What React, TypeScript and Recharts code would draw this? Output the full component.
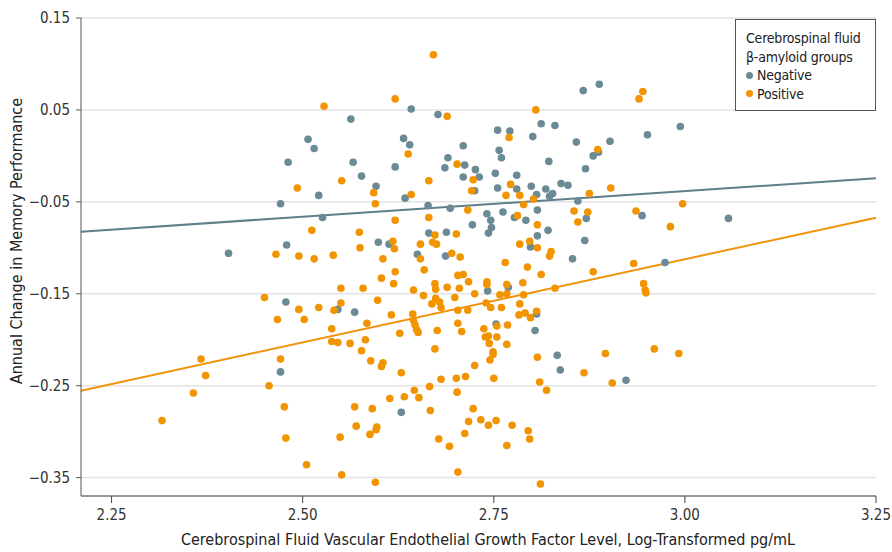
import { ScatterChart, Scatter, XAxis, YAxis, CartesianGrid, ReferenceLine, Legend, Label } from 'recharts'

// [vegf, memory change] pairs
const negative: [number, number][] = [
  [2.642, 0.051], [2.563, 0.04], [2.677, 0.045], [2.507, 0.018], [2.515, 0.008], [2.632, 0.019],
  [2.64, 0.012], [2.71, 0.011], [2.481, -0.007], [2.566, -0.007], [2.621, -0.012], [2.69, -0.002],
  [2.686, -0.013], [2.712, -0.01], [2.577, -0.022], [2.867, 0.071], [2.888, 0.078], [2.812, 0.035],
  [2.83, 0.033], [2.755, 0.028], [2.771, 0.027], [2.801, 0.021], [2.951, 0.023], [2.858, 0.015],
  [2.902, 0.016], [2.757, 0.006], [2.76, -0.002], [2.88, 0.0], [2.887, 0.004], [2.822, -0.006],
  [2.87, -0.014], [2.726, -0.015], [2.752, -0.019], [2.78, -0.021], [2.994, 0.032], [2.471, -0.052],
  [2.403, -0.106], [2.521, -0.043], [2.596, -0.033], [2.634, -0.046], [2.71, -0.023], [2.725, -0.038],
  [2.664, -0.054], [2.693, -0.057], [2.526, -0.067], [2.722, -0.075], [2.665, -0.084], [2.688, -0.083],
  [2.479, -0.097], [2.599, -0.094], [2.613, -0.096], [2.65, -0.107], [2.687, -0.109], [2.478, -0.159],
  [2.546, -0.167], [2.568, -0.17], [2.731, -0.023], [2.755, -0.035], [2.78, -0.036], [2.799, -0.033],
  [2.806, -0.042], [2.818, -0.036], [2.827, -0.041], [2.823, -0.044], [2.838, -0.03], [2.847, -0.032],
  [2.86, -0.049], [2.871, -0.068], [2.944, -0.065], [2.741, -0.063], [2.762, -0.061], [2.777, -0.067],
  [2.746, -0.07], [2.792, -0.07], [2.807, -0.059], [2.747, -0.078], [2.743, -0.084], [2.821, -0.081],
  [2.807, -0.087], [2.798, -0.099], [2.869, -0.092], [2.853, -0.112], [2.974, -0.116], [2.742, -0.147],
  [2.769, -0.143], [2.806, -0.172], [2.753, -0.183], [2.804, -0.19], [3.057, -0.068], [2.471, -0.235],
  [2.629, -0.279], [2.833, -0.217], [2.837, -0.233], [2.923, -0.244],
]

const positive: [number, number][] = [
  [2.671, 0.11], [2.528, 0.054], [2.621, 0.062], [2.689, 0.043], [2.638, 0.002], [2.702, -0.009],
  [2.945, 0.07], [2.94, 0.062], [2.805, 0.05], [2.77, 0.02], [2.886, 0.007], [2.465, -0.107],
  [2.45, -0.154], [2.467, -0.178], [2.551, -0.027], [2.493, -0.035], [2.593, -0.04], [2.595, -0.052],
  [2.642, -0.042], [2.665, -0.027], [2.723, -0.026], [2.721, -0.038], [2.716, -0.059], [2.621, -0.07],
  [2.665, -0.067], [2.512, -0.081], [2.574, -0.083], [2.673, -0.086], [2.701, -0.085], [2.618, -0.093],
  [2.62, -0.101], [2.575, -0.1], [2.654, -0.096], [2.67, -0.094], [2.675, -0.096], [2.654, -0.112],
  [2.695, -0.106], [2.706, -0.11], [2.495, -0.109], [2.515, -0.112], [2.54, -0.108], [2.605, -0.112],
  [2.659, -0.124], [2.621, -0.126], [2.603, -0.133], [2.703, -0.13], [2.71, -0.129], [2.717, -0.137],
  [2.619, -0.139], [2.673, -0.139], [2.55, -0.144], [2.579, -0.144], [2.645, -0.146], [2.674, -0.145],
  [2.689, -0.143], [2.705, -0.144], [2.725, -0.15], [2.658, -0.152], [2.699, -0.154], [2.674, -0.155],
  [2.598, -0.157], [2.55, -0.16], [2.669, -0.161], [2.679, -0.159], [2.681, -0.165], [2.521, -0.165],
  [2.495, -0.167], [2.541, -0.168], [2.703, -0.168], [2.716, -0.168], [2.502, -0.178], [2.616, -0.173],
  [2.644, -0.172], [2.645, -0.179], [2.647, -0.184], [2.649, -0.189], [2.651, -0.192], [2.538, -0.188],
  [2.584, -0.182], [2.703, -0.182], [2.627, -0.193], [2.676, -0.19], [2.708, -0.191], [2.772, -0.031],
  [2.766, -0.043], [2.784, -0.043], [2.903, -0.035], [2.875, -0.041], [2.802, -0.047], [2.789, -0.053],
  [2.855, -0.06], [2.873, -0.061], [2.86, -0.072], [2.936, -0.06], [2.981, -0.077], [2.781, -0.065],
  [2.807, -0.075], [2.797, -0.093], [2.784, -0.096], [2.807, -0.1], [2.825, -0.104], [2.823, -0.109],
  [2.765, -0.116], [2.794, -0.121], [2.933, -0.117], [2.88, -0.126], [2.812, -0.129], [2.741, -0.137],
  [2.741, -0.14], [2.767, -0.14], [2.788, -0.138], [2.83, -0.144], [2.946, -0.139], [2.948, -0.146],
  [2.949, -0.149], [2.758, -0.151], [2.767, -0.15], [2.789, -0.151], [2.74, -0.16], [2.746, -0.165],
  [2.76, -0.165], [2.784, -0.161], [2.783, -0.173], [2.791, -0.171], [2.798, -0.176], [2.806, -0.169],
  [2.737, -0.188], [2.754, -0.185], [2.768, -0.184], [2.997, -0.052], [2.367, -0.221], [2.373, -0.239],
  [2.357, -0.258], [2.316, -0.288], [2.456, -0.25], [2.471, -0.221], [2.538, -0.202], [2.546, -0.203],
  [2.562, -0.204], [2.582, -0.2], [2.577, -0.212], [2.673, -0.21], [2.589, -0.223], [2.605, -0.225],
  [2.603, -0.229], [2.629, -0.236], [2.725, -0.228], [2.681, -0.243], [2.701, -0.242], [2.713, -0.24],
  [2.666, -0.251], [2.646, -0.255], [2.633, -0.262], [2.652, -0.263], [2.614, -0.264], [2.702, -0.257],
  [2.476, -0.273], [2.568, -0.273], [2.591, -0.275], [2.667, -0.277], [2.723, -0.275], [2.717, -0.289],
  [2.57, -0.294], [2.597, -0.295], [2.596, -0.298], [2.588, -0.303], [2.712, -0.302], [2.478, -0.307],
  [2.549, -0.306], [2.678, -0.308], [2.692, -0.316], [2.505, -0.336], [2.551, -0.347], [2.595, -0.355],
  [2.703, -0.344], [2.743, -0.196], [2.754, -0.197], [2.739, -0.197], [2.744, -0.204], [2.767, -0.205],
  [2.749, -0.213], [2.749, -0.216], [2.745, -0.222], [2.807, -0.219], [2.896, -0.215], [2.96, -0.21],
  [2.868, -0.236], [2.75, -0.242], [2.81, -0.246], [2.819, -0.255], [2.905, -0.247], [2.733, -0.287],
  [2.753, -0.288], [2.743, -0.293], [2.774, -0.293], [2.795, -0.299], [2.797, -0.308], [2.767, -0.315],
  [2.811, -0.357], [2.992, -0.215],
]

// fitted lines, endpoints at the x-axis limits
const negativeFit: [number, number][] = [[2.21, -0.0824], [3.25, -0.0243]]
const positiveFit: [number, number][] = [[2.21, -0.2554], [3.25, -0.0672]]

const xTicks = [2.25, 2.5, 2.75, 3.0, 3.25]
const yTicks = [0.15, 0.05, -0.05, -0.15, -0.25, -0.35]

const BLUE = '#6a8a95'
const ORANGE = '#f29400'
const FONT = "'Liberation Sans Narrow', 'DejaVu Sans Condensed', sans-serif"

const toPoints = (arr: [number, number][]) => arr.map(([x, y]) => ({ x, y }))
const fmt = (v: number) => (v < 0 ? '\u2212' : '') + Math.abs(v).toFixed(2)

function Dot(color: string) {
  return (p: any) => <circle cx={p.cx} cy={p.cy} r={3.8} fill={color} />
}

function LegendBox() {
  return (
    <div
      style={{
        width: 141,
        height: 92,
        border: '1px solid #555',
        background: '#fff',
        fontFamily: FONT,
        fontSize: 14,
        letterSpacing: -0.2,
        whiteSpace: 'nowrap',
        color: '#222',
        lineHeight: '18.5px',
        padding: '9px 0 0 10px',
        boxSizing: 'border-box',
      }}
    >
      <div>Cerebrospinal fluid</div>
      <div>β-amyloid groups</div>
      {[['Negative', BLUE], ['Positive', ORANGE]].map(([name, c]) => (
        <div key={name} style={{ display: 'flex', alignItems: 'center' }}>
          <span style={{ width: 7, height: 7, borderRadius: '50%', background: c, marginRight: 4 }} />
          {name}
        </div>
      ))}
    </div>
  )
}

export default function App() {
  return (
    <div style={{ position: 'absolute', left: 0, top: 0, width: 892, height: 552, background: '#fff' }}>
      <ScatterChart width={892} height={552} margin={{ top: 18, right: 16, bottom: 0, left: 0 }}>
        <CartesianGrid vertical={false} stroke="#e3e3e3" strokeWidth={1.5} />
        <XAxis
          type="number"
          dataKey="x"
          domain={[2.21, 3.25]}
          ticks={xTicks}
          tickFormatter={(v: number) => v.toFixed(2)}
          allowDataOverflow
          height={56}
          stroke="#444"
          tickSize={7}
          tickMargin={6}
          tick={{ fill: '#333', fontSize: 15, fontFamily: FONT }}
        >
          <Label
            content={() => (
              <text x={488} y={545} textAnchor="middle" fontFamily={FONT} fontSize={16} fill="#222">
                Cerebrospinal Fluid Vascular Endothelial Growth Factor Level, Log-Transformed pg/mL
              </text>
            )}
          />
        </XAxis>
        <YAxis
          type="number"
          dataKey="y"
          domain={[-0.37, 0.15]}
          ticks={yTicks}
          tickFormatter={fmt}
          allowDataOverflow
          width={81}
          stroke="#555"
          tickSize={5}
          tickMargin={6}
          tick={{ fill: '#333', fontSize: 15, fontFamily: FONT }}
        >
          <Label
            content={() => (
              <text
                x={22}
                y={241}
                transform="rotate(-90 22 241)"
                textAnchor="middle"
                fontFamily={FONT}
                fontSize={16}
                fill="#222"
              >
                Annual Change in Memory Performance
              </text>
            )}
          />
        </YAxis>
        <ReferenceLine segment={toPoints(negativeFit)} stroke="#5f7f8a" strokeWidth={2} />
        <ReferenceLine segment={toPoints(positiveFit)} stroke="#f0930a" strokeWidth={2} />
        <Scatter name="Negative" data={toPoints(negative)} fill={BLUE} shape={Dot(BLUE)} isAnimationActive={false} />
        <Scatter name="Positive" data={toPoints(positive)} fill={ORANGE} shape={Dot(ORANGE)} isAnimationActive={false} />
        <Legend
          layout="vertical"
          align="center"
          verticalAlign="middle"
          wrapperStyle={{ left: 735, top: 19 }}
          content={() => <LegendBox />}
        />
      </ScatterChart>
    </div>
  )
}
